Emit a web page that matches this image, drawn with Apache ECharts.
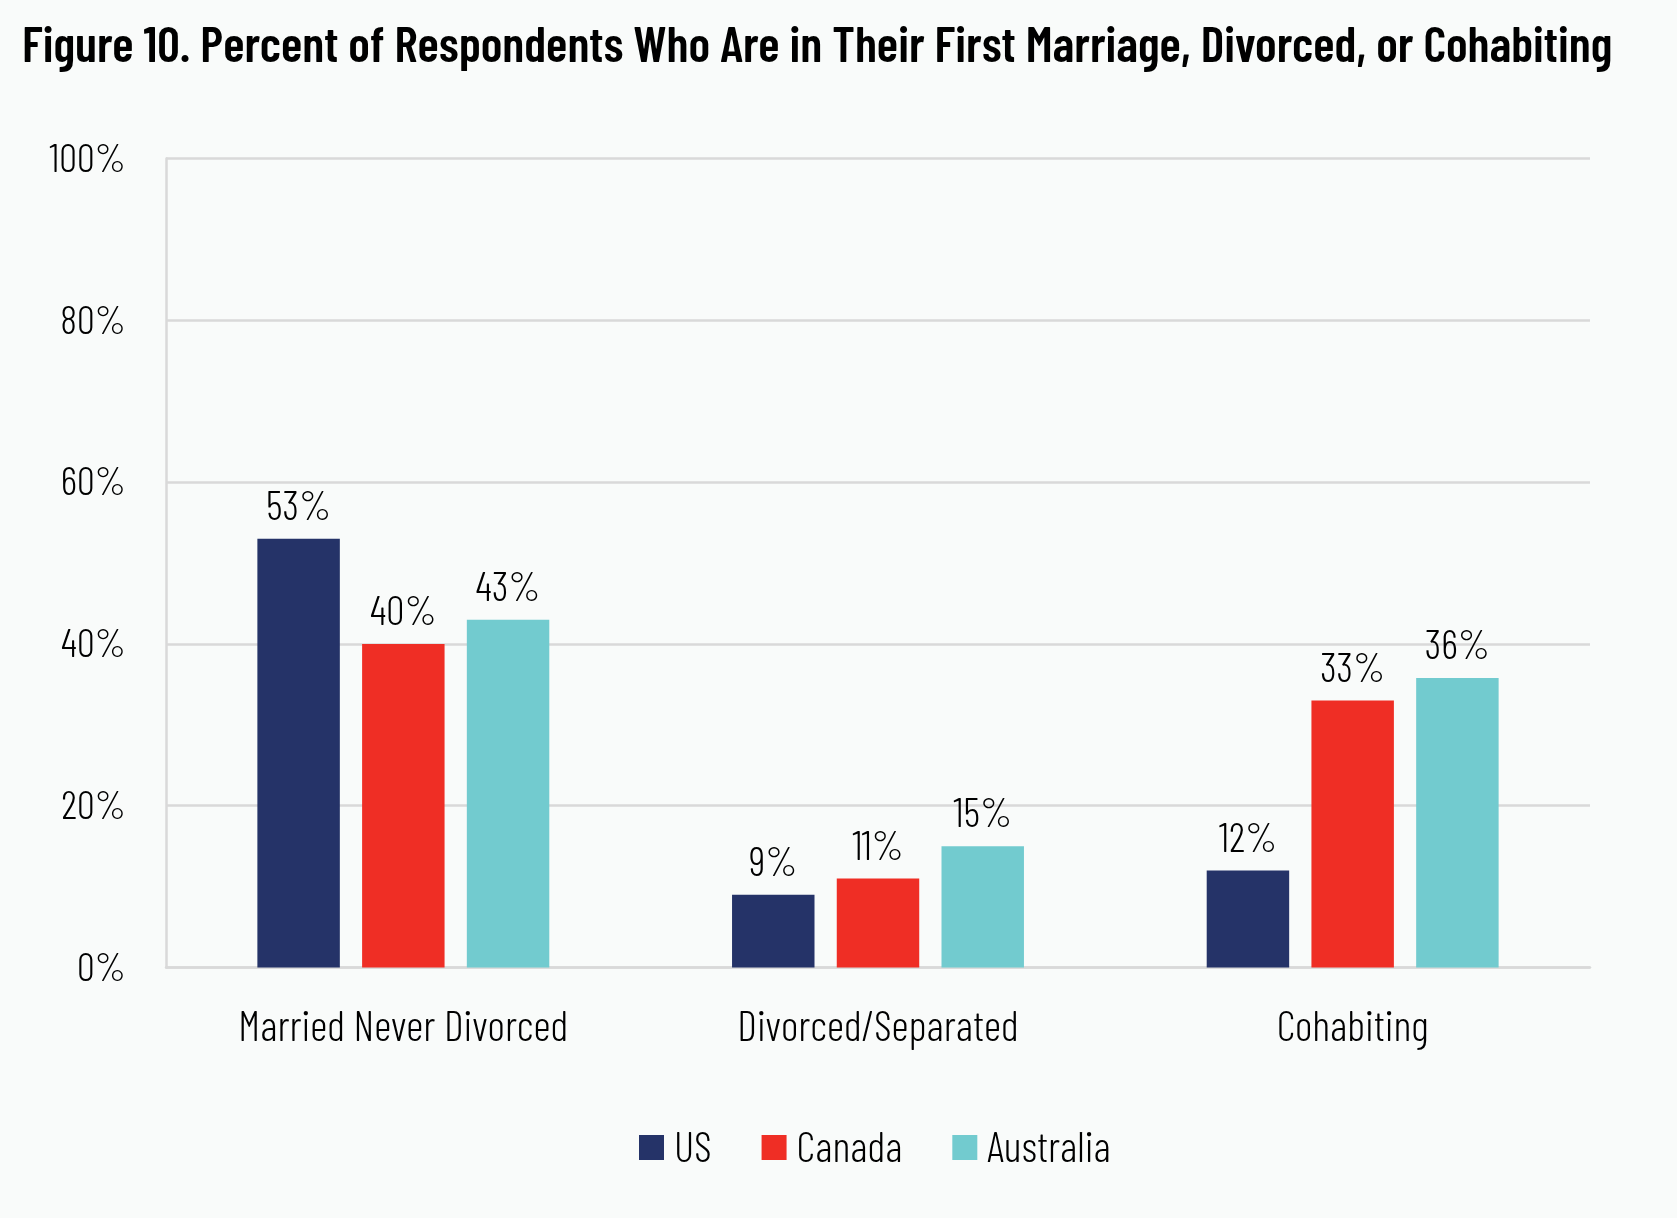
<!DOCTYPE html>
<html>
<head>
<meta charset="utf-8">
<script src="https://cdn.jsdelivr.net/npm/echarts@6/dist/echarts.min.js"></script>
<style>
html,body{margin:0;padding:0;background:#f9fbfa;}
#chart{width:1677px;height:1218px;}
</style>
</head>
<body>
<div id="chart"></div>
<script>
const titleText = 'Figure 10. Percent of Respondents Who Are in Their First Marriage, Divorced, or Cohabiting';
const categories = ['Married Never Divorced', 'Divorced/Separated', 'Cohabiting'];
const seriesNames = ['US', 'Canada', 'Australia'];
const usValues = [53, 9, 12];
const canadaValues = [40, 11, 33];
const australiaValues = [43, 15, 35.8];
const yTicks = [0, 20, 40, 60, 80, 100];
const colors = ['#253368', '#ef2e25', '#72cbcf'];

const FONT = '"Barlow Condensed", "Roboto Condensed", sans-serif';
const chart = echarts.init(document.getElementById('chart'));
const valueSets = [usValues, canadaValues, australiaValues];

chart.setOption({
  backgroundColor: '#f9fbfa',
  animation: false,
  title: {
    text: titleText,
    left: 22, top: 20, padding: 0,
    textStyle: { fontFamily: FONT, fontWeight: 600, fontSize: 50, color: '#000' }
  },
  legend: {
    data: seriesNames,
    left: 634, top: 1121, padding: 5,
    itemWidth: 25, itemHeight: 25, itemGap: 50,
    icon: 'rect',
    textStyle: { fontFamily: FONT, fontWeight: 300, fontSize: 42.5, color: '#000', padding: [0, 0, 0, 5] }
  },
  grid: { left: 166, right: 87, top: 158.5, bottom: 250.5, containLabel: false },
  xAxis: {
    type: 'category',
    data: categories,
    axisLine: { show: true, lineStyle: { color: '#d9d9d9', width: 2.5 } },
    axisTick: { show: false },
    axisLabel: { interval: 0, fontFamily: FONT, fontWeight: 300, fontSize: 42.5, color: '#000', margin: 38 }
  },
  yAxis: {
    type: 'value',
    min: yTicks[0], max: yTicks[yTicks.length - 1], interval: 20,
    axisLine: { show: true, lineStyle: { color: '#d9d9d9', width: 2.5 } },
    axisTick: { show: false },
    splitLine: { lineStyle: { color: '#d9d9d9', width: 2.5 } },
    axisLabel: { fontFamily: FONT, fontWeight: 300, fontSize: 40, color: '#000', margin: 40, formatter: v => v + '%' }
  },
  series: seriesNames.map((name, i) => ({
    name: name,
    type: 'bar',
    data: valueSets[i],
    barGap: '27%',
    barCategoryGap: '38.5%',
    itemStyle: { color: colors[i] },
    label: {
      show: true, position: 'top', distance: 12,
      fontFamily: FONT, fontWeight: 300, fontSize: 41, color: '#000',
      formatter: p => Math.round(p.value) + '%'
    }
  }))
});
</script>
</body>
</html>
